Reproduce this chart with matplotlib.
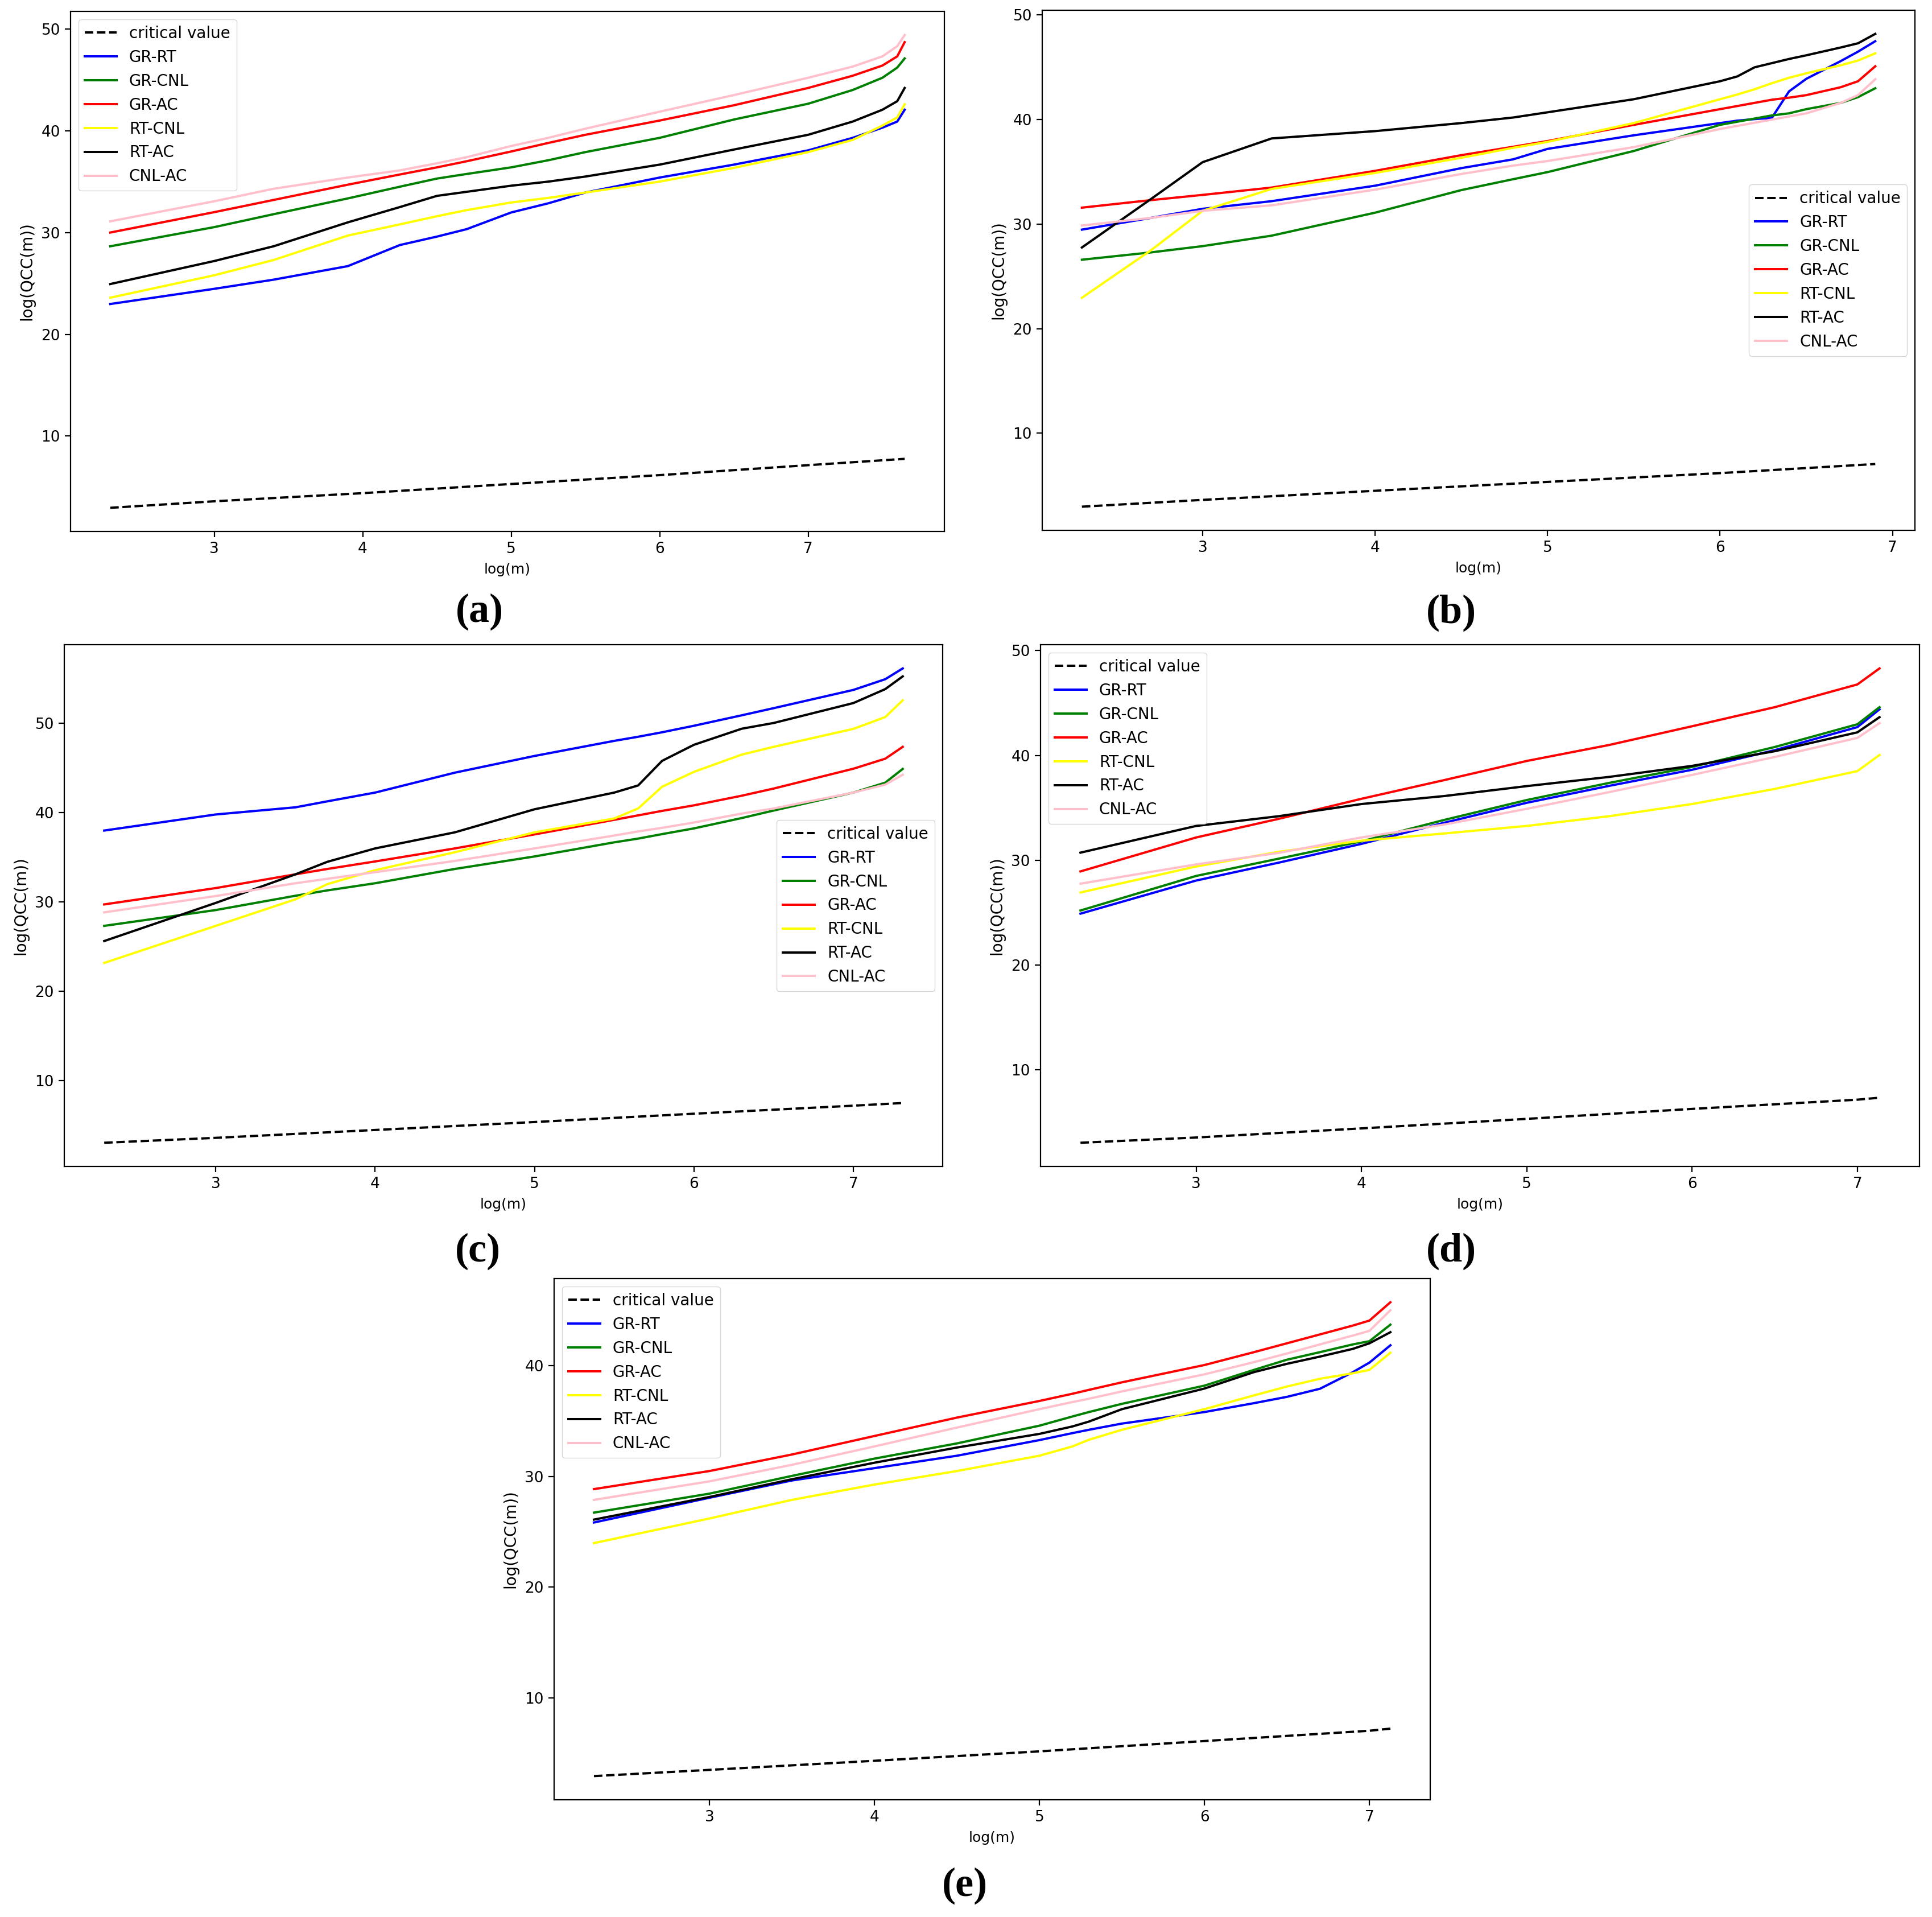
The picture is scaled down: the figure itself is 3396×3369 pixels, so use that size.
import matplotlib
matplotlib.use("Agg")
import matplotlib.pyplot as plt

labels = ["GR-RT", "GR-CNL", "GR-AC", "RT-CNL", "RT-AC", "CNL-AC"]
colors = ["blue", "green", "red", "yellow", "black", "pink"]

# ---- panel (a)
xa = [2.3, 3.0, 3.4, 3.9, 4.25, 4.5, 4.7, 5.0, 5.25, 5.5, 6.0, 6.5, 7.0, 7.3, 7.5, 7.6, 7.65]
a_gr_rt = [22.98, 24.47, 25.37, 26.7, 28.77, 29.6, 30.33, 31.97, 32.87, 33.93, 35.4, 36.67, 38.07, 39.3, 40.3, 40.9, 42.06]
a_gr_cnl = [28.65, 30.53, 31.8, 33.35, 34.5, 35.3, 35.75, 36.4, 37.1, 37.9, 39.3, 41.1, 42.65, 44.0, 45.2, 46.2, 47.1]
a_gr_ac = [30.0, 32.0, 33.2, 34.7, 35.7, 36.4, 37.0, 37.96, 38.8, 39.6, 41.0, 42.5, 44.2, 45.4, 46.4, 47.3, 48.7]
a_rt_cnl = [23.6, 25.8, 27.3, 29.7, 30.8, 31.6, 32.2, 32.95, 33.4, 33.93, 35.0, 36.35, 37.9, 39.1, 40.5, 41.3, 42.6]
a_rt_ac = [24.94, 27.2, 28.65, 31.0, 32.5, 33.6, 34.0, 34.6, 35.0, 35.5, 36.67, 38.15, 39.6, 40.9, 42.06, 42.9, 44.2]
a_cnl_ac = [31.1, 33.07, 34.3, 35.4, 36.1, 36.8, 37.4, 38.5, 39.3, 40.2, 41.87, 43.5, 45.2, 46.3, 47.3, 48.3, 49.4]
a_crit_x = [2.3, 3.0, 4.0, 5.0, 6.0, 7.0, 7.65]
a_crit = [2.96, 3.6, 4.4, 5.3, 6.17, 7.15, 7.77]

# ---- panel (b)
xb = [2.3, 2.7, 3.0, 3.4, 4.0, 4.5, 4.8, 5.0, 5.5, 6.0, 6.1, 6.2, 6.3, 6.4, 6.5, 6.7, 6.8, 6.9]
b_gr_rt = [29.48, 30.6, 31.47, 32.2, 33.68, 35.36, 36.2, 37.2, 38.5, 39.67, 39.9, 40.05, 40.16, 42.7, 43.9, 45.6, 46.5, 47.5]
b_gr_cnl = [26.6, 27.3, 27.9, 28.9, 31.1, 33.26, 34.3, 34.98, 37.0, 39.5, 39.8, 40.1, 40.4, 40.6, 41.0, 41.6, 42.15, 43.0]
b_gr_ac = [31.58, 32.3, 32.8, 33.5, 35.1, 36.6, 37.4, 37.95, 39.5, 41.0, 41.3, 41.6, 41.9, 42.1, 42.34, 43.1, 43.67, 45.1]
b_rt_cnl = [22.96, 27.5, 31.28, 33.37, 34.9, 36.35, 37.3, 37.87, 39.67, 41.95, 42.4, 42.9, 43.48, 44.0, 44.43, 45.2, 45.65, 46.34]
b_rt_ac = [27.77, 32.4, 35.93, 38.2, 38.9, 39.67, 40.2, 40.7, 41.95, 43.67, 44.13, 45.0, 45.4, 45.8, 46.15, 46.9, 47.3, 48.2]
b_cnl_ac = [29.87, 30.6, 31.28, 31.8, 33.3, 34.8, 35.6, 36.04, 37.37, 39.1, 39.4, 39.7, 40.0, 40.3, 40.6, 41.6, 42.34, 43.86]
b_crit_x = [2.3, 3.0, 4.0, 5.0, 6.0, 6.9]
b_crit = [2.98, 3.63, 4.5, 5.35, 6.19, 7.06]

# ---- panel (c)
xc = [2.3, 3.0, 3.5, 3.7, 4.0, 4.5, 5.0, 5.5, 5.65, 5.8, 6.0, 6.3, 6.5, 7.0, 7.2, 7.31]
c_gr_rt = [38.0, 39.8, 40.6, 41.27, 42.25, 44.48, 46.35, 48.04, 48.5, 49.0, 49.73, 50.9, 51.7, 53.74, 54.94, 56.15]
c_gr_cnl = [27.33, 29.1, 30.7, 31.3, 32.1, 33.7, 35.1, 36.68, 37.1, 37.6, 38.24, 39.4, 40.24, 42.25, 43.36, 44.9]
c_gr_ac = [29.73, 31.56, 33.1, 33.7, 34.54, 36.0, 37.57, 39.2, 39.7, 40.2, 40.82, 41.9, 42.7, 44.92, 46.04, 47.37]
c_rt_cnl = [23.18, 27.33, 30.3, 32.0, 33.56, 35.57, 37.8, 39.35, 40.47, 42.9, 44.57, 46.5, 47.37, 49.38, 50.7, 52.58]
c_rt_ac = [25.63, 29.9, 33.1, 34.5, 36.0, 37.8, 40.38, 42.25, 43.05, 45.8, 47.6, 49.4, 50.04, 52.27, 53.83, 55.26]
c_cnl_ac = [28.84, 30.67, 32.1, 32.6, 33.34, 34.6, 36.0, 37.44, 37.9, 38.3, 38.9, 39.9, 40.47, 42.25, 43.14, 44.25]
c_crit_x = [2.3, 3.0, 4.0, 5.0, 6.0, 7.0, 7.31]
c_crit = [3.05, 3.6, 4.48, 5.37, 6.3, 7.2, 7.5]

# ---- panel (d)
xd = [2.3, 3.0, 3.5, 4.0, 4.5, 5.0, 5.5, 6.0, 6.5, 7.0, 7.134]
d_gr_rt = [24.9, 28.06, 29.77, 31.56, 33.57, 35.48, 37.1, 38.63, 40.5, 42.7, 44.4]
d_gr_cnl = [25.2, 28.5, 30.15, 31.8, 33.84, 35.74, 37.38, 38.9, 40.8, 42.97, 44.6]
d_gr_ac = [28.93, 32.17, 33.95, 35.86, 37.64, 39.47, 41.0, 42.78, 44.6, 46.77, 48.3]
d_rt_cnl = [26.92, 29.4, 30.8, 31.86, 32.55, 33.27, 34.2, 35.36, 36.8, 38.5, 40.04]
d_rt_ac = [30.72, 33.27, 34.2, 35.36, 36.12, 37.07, 37.95, 39.0, 40.4, 42.2, 43.65]
d_cnl_ac = [27.76, 29.6, 30.7, 32.17, 33.4, 34.9, 36.5, 38.14, 39.85, 41.67, 43.08]
d_crit_x = [2.3, 3.0, 4.0, 5.0, 6.0, 7.0, 7.134]
d_crit = [3.04, 3.54, 4.41, 5.32, 6.27, 7.15, 7.34]

# ---- panel (e)
xe = [2.3, 3.0, 3.5, 4.0, 4.5, 5.0, 5.2, 5.3, 5.5, 6.0, 6.3, 6.5, 6.7, 6.9, 7.0, 7.127]
e_gr_rt = [25.84, 28.07, 29.63, 30.74, 31.86, 33.27, 33.9, 34.2, 34.76, 35.8, 36.6, 37.17, 37.9, 39.4, 40.26, 41.82]
e_gr_cnl = [26.73, 28.44, 30.04, 31.6, 32.97, 34.57, 35.4, 35.8, 36.54, 38.18, 39.6, 40.52, 41.2, 41.9, 42.19, 43.68]
e_gr_ac = [28.85, 30.48, 31.97, 33.64, 35.3, 36.8, 37.45, 37.8, 38.48, 40.04, 41.2, 42.0, 42.8, 43.6, 44.05, 45.7]
e_rt_cnl = [23.98, 26.2, 27.88, 29.26, 30.48, 31.86, 32.7, 33.3, 34.2, 36.06, 37.3, 38.1, 38.8, 39.3, 39.6, 41.15]
e_rt_ac = [26.1, 28.14, 29.74, 31.23, 32.6, 33.83, 34.5, 34.94, 36.06, 37.92, 39.4, 40.15, 40.8, 41.5, 42.0, 43.0]
e_cnl_ac = [27.88, 29.55, 31.04, 32.7, 34.4, 36.06, 36.7, 37.0, 37.66, 39.2, 40.3, 41.08, 41.9, 42.7, 43.12, 44.98]
e_crit_x = [2.3, 3.0, 4.0, 5.0, 6.0, 7.0, 7.127]
e_crit = [2.97, 3.53, 4.35, 5.2, 6.13, 7.06, 7.25]

panels = [
    ("(a)", xa, [a_gr_rt, a_gr_cnl, a_gr_ac, a_rt_cnl, a_rt_ac, a_cnl_ac], a_crit_x, a_crit, "upper left"),
    ("(b)", xb, [b_gr_rt, b_gr_cnl, b_gr_ac, b_rt_cnl, b_rt_ac, b_cnl_ac], b_crit_x, b_crit, "center right"),
    ("(c)", xc, [c_gr_rt, c_gr_cnl, c_gr_ac, c_rt_cnl, c_rt_ac, c_cnl_ac], c_crit_x, c_crit, "center right"),
    ("(d)", xd, [d_gr_rt, d_gr_cnl, d_gr_ac, d_rt_cnl, d_rt_ac, d_cnl_ac], d_crit_x, d_crit, "upper left"),
    ("(e)", xe, [e_gr_rt, e_gr_cnl, e_gr_ac, e_rt_cnl, e_rt_ac, e_cnl_ac], e_crit_x, e_crit, "upper left"),
]

W, H = 3396, 3369
# axes boxes in pixels (left, top, right, bottom) and label centres
boxes = [(124, 20, 1660, 934), (1832, 18, 3366, 932), (113, 1133, 1657, 2050),
         (1829, 1133, 3374, 2050), (974, 2247, 2514, 3163)]
tags = [(843, 1075), (2551, 1077), (840, 2199), (2551, 2199), (1696, 3314)]

plt.rcParams['font.size'] = 18
plt.rcParams['xtick.labelsize'] = 19
plt.rcParams['ytick.labelsize'] = 19
plt.rcParams['axes.linewidth'] = 1.6
plt.rcParams['xtick.major.size'] = 7
plt.rcParams['ytick.major.size'] = 7
plt.rcParams['xtick.major.width'] = 1.6
plt.rcParams['ytick.major.width'] = 1.6
plt.rcParams['xtick.major.pad'] = 6
plt.rcParams['ytick.major.pad'] = 6

fig = plt.figure(figsize=(W / 100, H / 100), dpi=100)
for (tag, x, series, cx, cv, loc), (l, t, r, b), (tx, ty) in zip(panels, boxes, tags):
    ax = fig.add_axes([l / W, 1 - b / H, (r - l) / W, (b - t) / H])
    ax.plot(cx, cv, 'k--', lw=2.9, label="critical value")
    for ys, lab, col in zip(series, labels, colors):
        ax.plot(x, ys, color=col, lw=2.9, label=lab)
    ax.set_xlabel("log(m)", labelpad=8, fontsize=18)
    ax.set_ylabel("log(QCC(m))", labelpad=8, fontsize=20)
    ax.legend(loc=loc, fontsize=20)
    fig.text(tx / W, 1 - ty / H, tag, ha='center', va='center',
             family='Liberation Serif', fontweight='bold', fontsize=52)

fig.savefig("out.png", dpi=100, facecolor='white')
